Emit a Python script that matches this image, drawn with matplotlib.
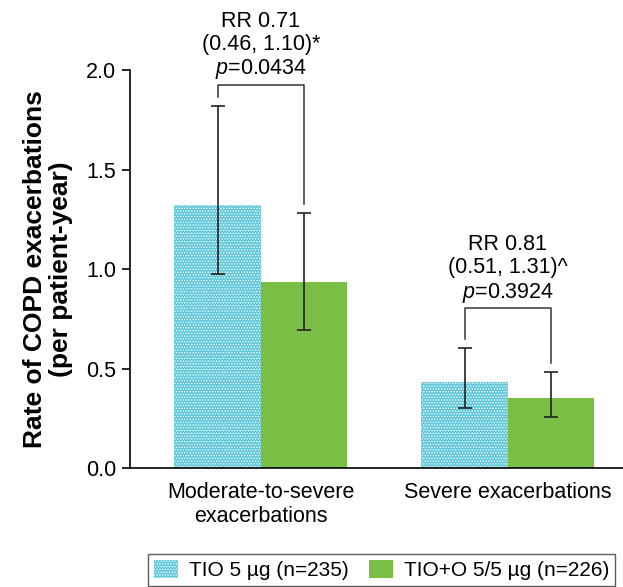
import matplotlib.pyplot as plt
import numpy as np

# --- data ---
categories = ["Moderate-to-severe\nexacerbations", "Severe exacerbations"]
series_labels = ["TIO 5 \u00b5g (n=235)", "TIO+O 5/5 \u00b5g (n=226)"]
tio_rate = [1.32, 0.432]
tio_lo = [0.975, 0.30]
tio_hi = [1.82, 0.603]
tioo_rate = [0.935, 0.352]
tioo_lo = [0.693, 0.256]
tioo_hi = [1.28, 0.482]
bracket_y = [1.925, 0.804]
annotations = [
    "RR 0.71\n(0.46, 1.10)*\n$\\it{p}$=0.0434",
    "RR 0.81\n(0.51, 1.31)^\n$\\it{p}$=0.3924",
]


def main():
    plt.rcParams.update({
        "font.family": ["Liberation Sans", "DejaVu Sans"],
        "font.size": 15.5,
        "mathtext.fontset": "custom",
        "mathtext.it": "Liberation Sans:italic",
        "mathtext.rm": "Liberation Sans",
        "hatch.linewidth": 0.6,
    })
    cyan = "#62c8da"
    green = "#7bbe45"
    err_color = "#222222"

    fig = plt.figure(figsize=(6.23, 5.87), dpi=100)
    ax = fig.add_axes([0.2087, 0.2027, 0.7913, 0.678])

    x = np.arange(len(categories))
    off, width = 0.175, 0.35

    ax.bar(x - off, tio_rate, width, color=cyan, edgecolor="white", linewidth=0,
           hatch="......", label=series_labels[0])
    ax.bar(x + off, tioo_rate, width, color=green, linewidth=0, label=series_labels[1])

    for xs, rate, lo, hi in [(x - off, tio_rate, tio_lo, tio_hi),
                             (x + off, tioo_rate, tioo_lo, tioo_hi)]:
        rate = np.array(rate)
        yerr = [rate - np.array(lo), np.array(hi) - rate]
        ax.errorbar(xs, rate, yerr=yerr, fmt="none", ecolor=err_color,
                    elinewidth=1.2, capsize=5, capthick=1.2)

    # significance brackets
    gap = 0.045
    for i in range(len(categories)):
        xl, xr = x[i] - off, x[i] + off
        yb = bracket_y[i]
        ax.plot([xl, xl, xr, xr], [tio_hi[i] + gap, yb, yb, tioo_hi[i] + gap],
                color="#333333", linewidth=1.1, clip_on=False)
        ax.annotate(annotations[i], (x[i], yb), xytext=(0, 2.5),
                    textcoords="offset points", ha="center", va="bottom",
                    linespacing=1.13, annotation_clip=False)

    ax.set_xlim(-0.53, 1.466)
    ax.set_ylim(0, 2.0)
    ax.set_yticks([0.0, 0.5, 1.0, 1.5, 2.0])
    ax.set_yticklabels(["0.0", "0.5", "1.0", "1.5", "2.0"])
    ax.set_xticks(x)
    ax.set_xticklabels(categories)
    ax.tick_params(axis="x", length=0, pad=10)
    ax.tick_params(axis="y", direction="out", length=6, width=1.2, pad=4)

    for side in ("top", "right"):
        ax.spines[side].set_visible(False)
    for side in ("left", "bottom"):
        ax.spines[side].set_linewidth(1.2)

    ax.set_ylabel("Rate of COPD exacerbations\n(per patient-year)", fontsize=19,
                  fontweight="bold", labelpad=9, linespacing=1.1)

    fig.legend(loc="upper left", bbox_to_anchor=(148 / 623, 1 - 554 / 587),
               borderaxespad=0, ncol=2, frameon=True, fancybox=False,
               edgecolor="#333333", handlelength=1.15, handleheight=0.9,
               handletextpad=0.5, columnspacing=1.0, borderpad=0.3,
               fontsize=15)

    fig.savefig("out.png", dpi=100)


if __name__ == "__main__":
    main()
